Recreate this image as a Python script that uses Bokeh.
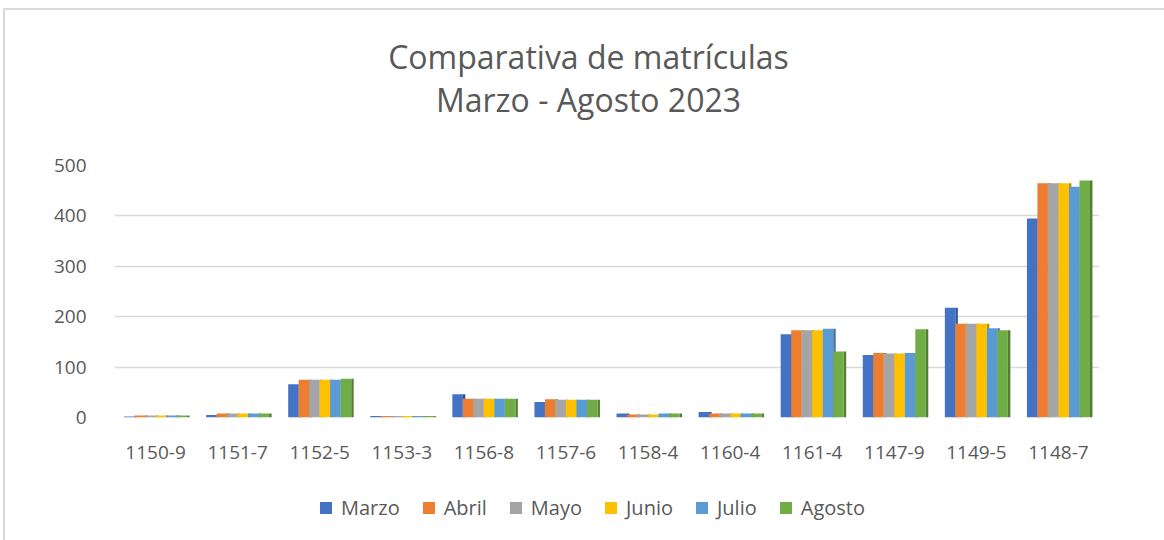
from bokeh.plotting import figure
from bokeh.layouts import column
from bokeh.models import (ColumnDataSource, FactorRange, Range1d, Legend, LegendItem,
                          Label, FixedTicker)
from bokeh.transform import dodge
from bokeh.embed import file_html
from bokeh.resources import INLINE

categories = ["1150-9", "1151-7", "1152-5", "1153-3", "1156-8", "1157-6",
              "1158-4", "1160-4", "1161-4", "1147-9", "1149-5", "1148-7"]
marzo  = [2, 5, 66, 3, 46, 31, 8, 11, 165, 124, 218, 395]
abril  = [4, 8, 75, 3, 37, 36, 6, 8, 173, 128, 186, 465]
mayo   = [4, 8, 75, 3, 37, 35, 6, 8, 173, 127, 186, 465]
junio  = [4, 8, 75, 3, 37, 35, 6, 8, 173, 127, 186, 465]
julio  = [4, 8, 75, 3, 37, 35, 8, 8, 176, 128, 177, 458]
agosto = [4, 8, 77, 3, 37, 35, 8, 8, 131, 175, 173, 470]
series_names = ["Marzo", "Abril", "Mayo", "Junio", "Julio", "Agosto"]
colors = ["#4472C4", "#ED7D31", "#A5A5A5", "#FFC000", "#5B9BD5", "#70AD47"]
side_colors = ["#2F528F", "#AE5A21", "#7B7B7B", "#BF9000", "#41719C", "#507E32"]
y_ticks = [0, 100, 200, 300, 400, 500]
title_lines = ["Comparativa de matrículas", "Marzo - Agosto 2023"]

FONT = "Open Sans"
TXT = "#595959"
OFF_X, OFF_Y = 3, 8          # chart box offset inside the page
W = 1164 - OFF_X - 2
FRAME_LEFT = 114 - OFF_X - 2


def blank(fig):
    fig.axis.visible = False
    fig.grid.grid_line_color = None
    fig.outline_line_color = None
    fig.background_fill_color = "white"
    fig.border_fill_color = "white"


# ---- title strip ----
pt = figure(width=W, height=150 - OFF_Y - 2, x_range=Range1d(0, 1), y_range=Range1d(0, 1),
            output_backend="svg", toolbar_location=None,
            min_border=0, min_border_left=0, min_border_right=0,
            min_border_top=0, min_border_bottom=0)
blank(pt)
tx = 588 - OFF_X - 2 - FRAME_LEFT
pt.add_layout(Label(x=tx, y=94, x_units="screen", y_units="screen",
                    text=title_lines[0], text_align="center", text_baseline="alphabetic",
                    text_font=FONT, text_font_size="32px", text_color=TXT))
pt.add_layout(Label(x=tx, y=51, x_units="screen", y_units="screen",
                    text=title_lines[1], text_align="center", text_baseline="alphabetic",
                    text_font=FONT, text_font_size="32px", text_color=TXT))

# ---- main chart ----
source = ColumnDataSource(dict(cat=categories, Marzo=marzo, Abril=abril, Mayo=mayo,
                               Junio=junio, Julio=julio, Agosto=agosto))

p = figure(width=W, height=320, x_range=FactorRange(*categories),
           y_range=Range1d(0, 500), output_backend="svg", toolbar_location=None,
           min_border_left=FRAME_LEFT, min_border_right=65, min_border_top=15,
           min_border_bottom=53)
p.outline_line_color = None
p.background_fill_color = "white"
p.border_fill_color = "white"

bw = 0.128
sw = 0.03
for i, (name, col) in enumerate(zip(series_names, side_colors)):
    off = (i - 2.5) * bw + bw / 2 + sw / 2
    p.vbar(x=dodge("cat", off, range=p.x_range), top=name, width=sw,
           source=source, fill_color=col, line_color=None)
for i, (name, col) in enumerate(zip(series_names, colors)):
    off = (i - 2.5) * bw
    p.vbar(x=dodge("cat", off, range=p.x_range), top=name, width=bw,
           source=source, fill_color=col, line_color=None)

p.xgrid.grid_line_color = None
p.ygrid.grid_line_color = "#d9d9d9"
p.ygrid.grid_line_width = 1.5
p.yaxis.ticker = FixedTicker(ticks=y_ticks)
p.x_range.range_padding = 0
p.x_range.group_padding = 0

for ax in (p.xaxis[0], p.yaxis[0]):
    ax.axis_line_color = None
    ax.major_tick_line_color = None
    ax.minor_tick_line_color = None
    ax.major_label_text_font = FONT
    ax.major_label_text_font_size = "19px"
    ax.major_label_text_color = TXT
p.yaxis.major_label_standoff = 22
p.xaxis.major_label_standoff = 22

# ---- legend strip ----
pl = figure(width=W, height=70, x_range=Range1d(0, 1), y_range=Range1d(0, 1),
            output_backend="svg", toolbar_location=None,
            min_border=0, min_border_left=0, min_border_right=0,
            min_border_top=0, min_border_bottom=0)
blank(pl)
# one off-range placeholder row per series so the legend can draw its swatch
swatch = ColumnDataSource(dict(x=[-5.0], top=[0.0]))
items = []
for name, col in zip(series_names, colors):
    r = pl.vbar(x="x", top="top", width=0.1, source=swatch, fill_color=col, line_color=None)
    items.append(LegendItem(label=name, renderers=[r]))
legend = Legend(items=items, orientation="horizontal",
                location=(318 - OFF_X - 2 - FRAME_LEFT, 19),
                label_text_font=FONT, label_text_font_size="20px",
                label_text_color=TXT, glyph_width=15, glyph_height=15,
                label_standoff=8, spacing=21, padding=0, margin=0,
                border_line_color=None, background_fill_alpha=0)
pl.add_layout(legend, "center")

layout = column(pt, p, pl, spacing=0, margin=(OFF_Y, 0, 0, OFF_X),
                styles={"border-left": "2px solid #d9d9d9",
                        "border-top": "2px solid #d9d9d9"})
open("out.html", "w").write(file_html(layout, INLINE))
